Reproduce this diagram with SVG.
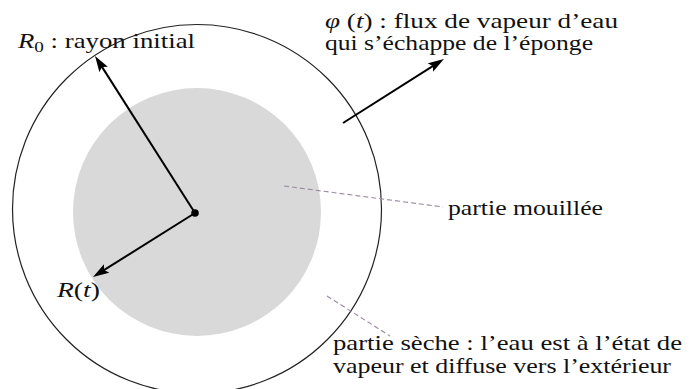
<svg xmlns="http://www.w3.org/2000/svg" width="698" height="389" viewBox="0 0 698 389">
  <defs>
    <marker id="arr" markerUnits="userSpaceOnUse" markerWidth="18" markerHeight="12" refX="6" refY="5.5" orient="auto">
      <path d="M0,0.5 L16,5.5 L0,10.5 L3,5.5 Z" fill="#000"/>
    </marker>
    <style>
      .lbl { font-family: "Liberation Serif", "DejaVu Serif", "Times New Roman", serif; font-size: 21px; fill: #111; }
      .it { font-style: italic; }
      .arrow { stroke: #000; stroke-width: 2; fill: none; marker-end: url(#arr); }
      .lead { stroke: #9a8aa2; stroke-width: 1.1; stroke-dasharray: 5 3; fill: none; }
    </style>
  </defs>
  <rect width="698" height="389" fill="#fff"/>

  <g id="sponge-outer">
    <circle cx="197" cy="209" r="184.5" fill="none" stroke="#222" stroke-width="1.2"/>
  </g>
  <g id="wet-part">
    <circle cx="197" cy="212" r="124" fill="#d9d9d9"/>
  </g>
  <g id="center">
    <circle cx="195" cy="213" r="3.8" fill="#000"/>
  </g>

  <g id="connectors">
    <line class="arrow" x1="195" y1="213" x2="100.4" y2="64.4"/>
    <line class="arrow" x1="195" y1="213" x2="101.5" y2="271.7"/>
    <line class="arrow" x1="343" y1="123" x2="435.5" y2="64.4"/>
    <line class="lead" x1="284" y1="186" x2="443" y2="207"/>
    <line class="lead" x1="327" y1="296" x2="390" y2="336"/>
  </g>

  <g id="label-R0" font-family="Liberation Serif, DejaVu Serif, serif">
    <text class="lbl" x="18" y="48" textLength="177" lengthAdjust="spacingAndGlyphs"><tspan class="it">R</tspan><tspan font-size="15" dy="4">0</tspan><tspan dy="-4"> : rayon initial</tspan></text>
  </g>
  <g id="label-flux" font-family="Liberation Serif, DejaVu Serif, serif">
    <text class="lbl" x="325" y="27.5" textLength="293" lengthAdjust="spacingAndGlyphs"><tspan class="it">φ</tspan> (<tspan class="it">t</tspan>) : flux de vapeur d’eau</text>
    <text class="lbl" x="325" y="49.5" textLength="268" lengthAdjust="spacingAndGlyphs">qui s’échappe de l’éponge</text>
  </g>
  <g id="label-wet" font-family="Liberation Serif, DejaVu Serif, serif">
    <text class="lbl" x="448" y="215" textLength="155" lengthAdjust="spacingAndGlyphs">partie mouillée</text>
  </g>
  <g id="label-dry" font-family="Liberation Serif, DejaVu Serif, serif">
    <text class="lbl" x="333" y="350" textLength="349" lengthAdjust="spacingAndGlyphs">partie sèche : l’eau est à l’état de</text>
    <text class="lbl" x="333" y="373" textLength="338" lengthAdjust="spacingAndGlyphs">vapeur et diffuse vers l’extérieur</text>
  </g>
  <g id="label-Rt" font-family="Liberation Serif, DejaVu Serif, serif">
    <text class="lbl" x="57" y="297" textLength="43" lengthAdjust="spacingAndGlyphs"><tspan class="it">R</tspan>(<tspan class="it">t</tspan>)</text>
  </g>
</svg>
